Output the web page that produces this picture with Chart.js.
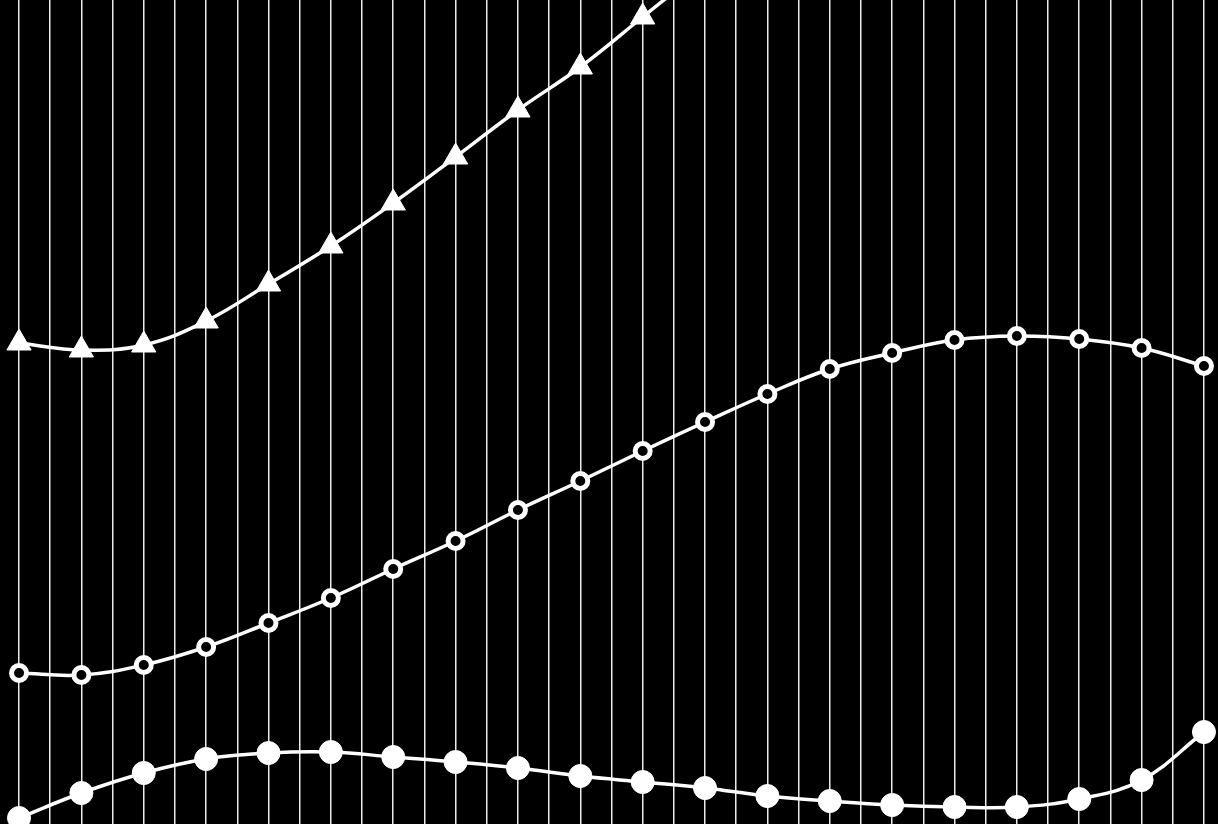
<!DOCTYPE html>
<html>
<head>
<meta charset="utf-8">
<script src="https://cdn.jsdelivr.net/npm/chart.js@4/dist/chart.umd.min.js"></script>
<style>
  html, body { margin: 0; padding: 0; background: #000; overflow: hidden; }
  #wrap { width: 1218px; height: 824px; position: relative; background: #000; }
</style>
</head>
<body>
<div id="wrap"><canvas id="c"></canvas></div>
<script>
// categories (point positions along the x axis)
const categories = [0,1,2,3,4,5,6,7,8,9,10,11,12,13,14,15,16,17,18,19];

// series values (height above the bottom of the plot)
const triangleSeries = [481, 474, 479, 503, 540, 578, 621, 667, 714, 757, 807, 857, null, null, null, null, null, null, null, null];
const openCircleSeries = [151, 149, 159, 177, 201, 226, 255, 283, 314, 343, 373, 402, 430, 455, 471, 484, 488, 485, 476, 458];
const filledCircleSeries = [6, 31, 51, 65, 71, 72, 67, 62, 56, 48, 42, 36, 28, 23, 19, 17, 17, 25, 44, 92];

// vertical rule positions (every half category)
const gridTicks = [];
for (let k = 0; k <= 38; k++) gridTicks.push(k / 2);

function toXY(values) {
  return values.map((v, i) => ({ x: categories[i], y: v }));
}

const common = {
  borderColor: '#fff',
  borderWidth: 3.5,
  tension: 0.4,
  clip: false,
  spanGaps: false
};

new Chart(document.getElementById('c'), {
  type: 'line',
  data: {
    datasets: [
      Object.assign({}, common, {
        label: 'A',
        data: toXY(triangleSeries),
        pointStyle: 'triangle',
        pointRadius: 14,
        pointBackgroundColor: '#fff',
        pointBorderColor: '#fff',
        pointBorderWidth: 1
      }),
      Object.assign({}, common, {
        label: 'B',
        data: toXY(openCircleSeries),
        pointStyle: 'circle',
        pointRadius: 7.5,
        pointBackgroundColor: '#000',
        pointBorderColor: '#fff',
        pointBorderWidth: 5
      }),
      Object.assign({}, common, {
        label: 'C',
        data: toXY(filledCircleSeries),
        pointStyle: 'circle',
        pointRadius: 11.5,
        pointBackgroundColor: '#fff',
        pointBorderColor: '#fff',
        pointBorderWidth: 1
      })
    ]
  },
  options: {
    responsive: true,
    maintainAspectRatio: false,
    animation: false,
    layout: { padding: 0, autoPadding: false },
    plugins: { legend: { display: false }, tooltip: { enabled: false } },
    scales: {
      x: {
        type: 'linear',
        min: -0.305,
        max: 19.225,
        afterBuildTicks: (scale) => { scale.ticks = gridTicks.map(v => ({ value: v })); },
        ticks: { display: false },
        border: { display: false },
        grid: { color: 'rgba(255,255,255,0.92)', lineWidth: 1.5, drawTicks: false, tickLength: 0 }
      },
      y: {
        type: 'linear',
        display: false,
        min: 0,
        max: 824
      }
    }
  }
});
</script>
</body>
</html>
